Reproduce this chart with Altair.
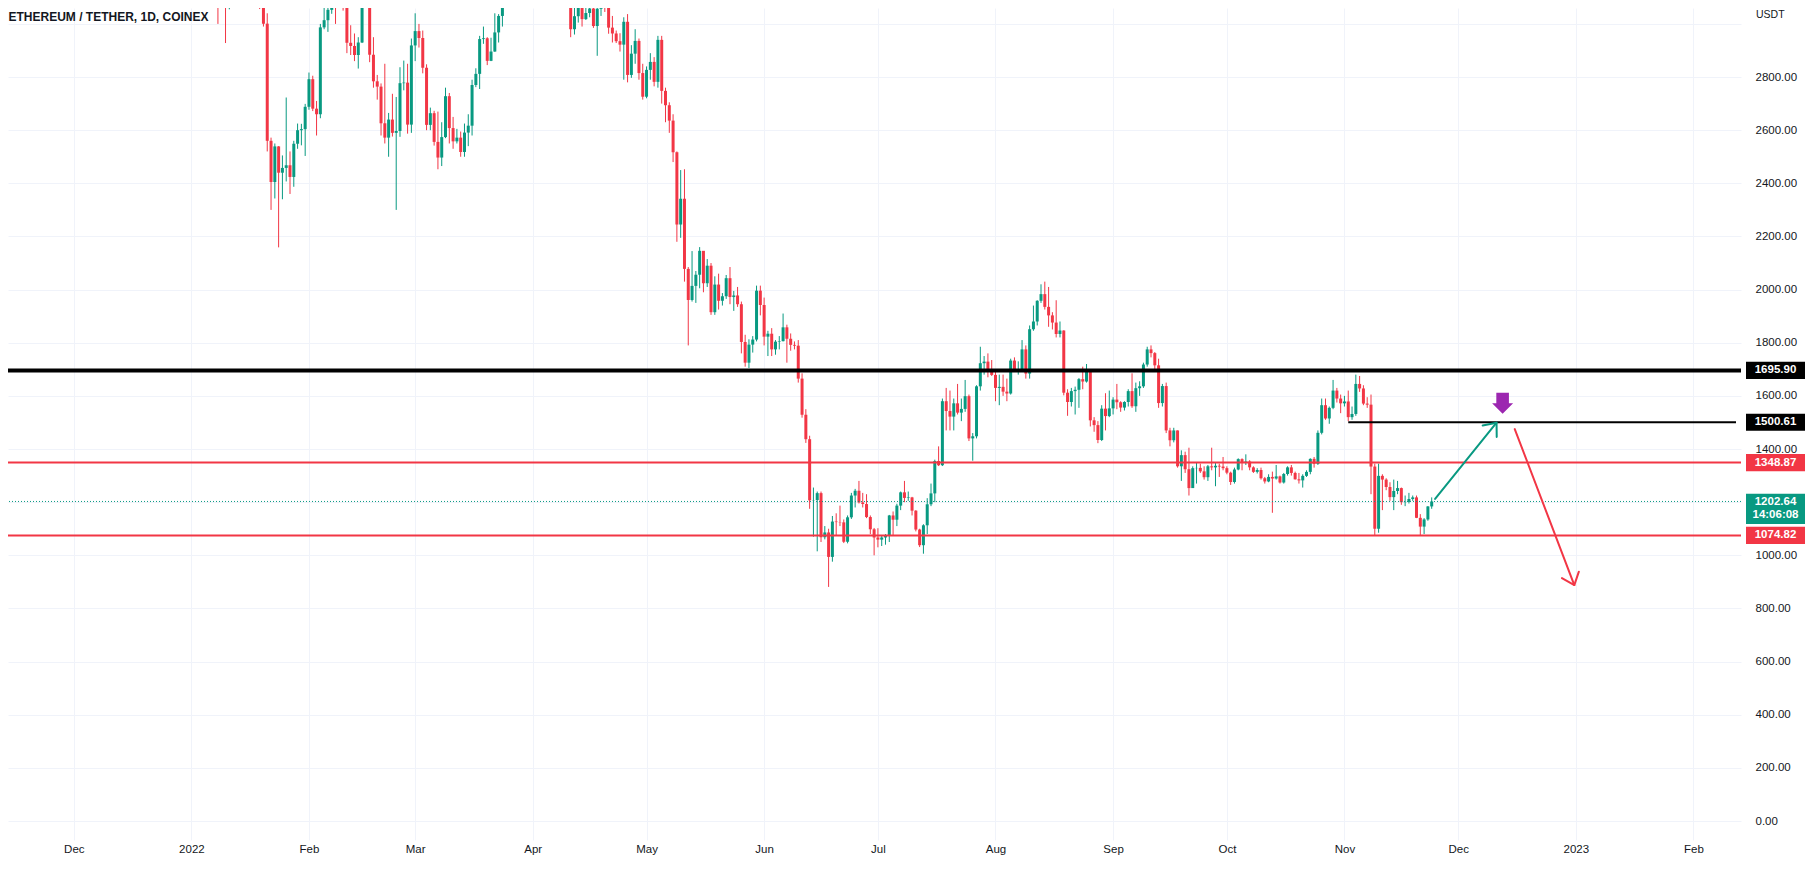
import altair as alt
import pandas as pd

# ------------------------------------------------------------------ data
first_open = 3676

c_jan = [3765, 3829, 3762, 3795, 3537, 3413, 3198, 3165, 3196, 3081,
         3239, 3371, 3245, 3309, 3331, 3349, 3211, 3165, 3096, 3001,
         2560, 2405, 2539, 2440, 2458, 2468, 2424, 2549, 2600, 2604,
         2688]
h_jan = [3776, 3855, 3855, 3878, 3845, 3555, 3421, 3240, 3240, 3211,
         3255, 3413, 3395, 3335, 3369, 3370, 3355, 3220, 3180, 3268,
         3040, 2572, 2550, 2540, 2505, 2723, 2520, 2560, 2625, 2624,
         2699]
l_jan = [3666, 3722, 3700, 3722, 3400, 3297, 3060, 3000, 3080, 2928,
         3055, 3208, 3237, 3180, 3300, 3280, 3160, 3085, 3056, 2990,
         2520, 2300, 2343, 2159, 2340, 2407, 2360, 2387, 2530, 2543,
         2503]

c_feb = [2792, 2681, 2660, 2987, 3014, 3053, 3147, 3115, 3242, 3076,
         2929, 2917, 2883, 2930, 3183, 3123, 2884, 2784, 2764, 2626,
         2572, 2640, 2590, 2597, 2777, 2779, 2621, 2919]
h_feb = [2817, 2805, 2710, 3000, 3065, 3075, 3190, 3180, 3270, 3280,
         3140, 2995, 2964, 2950, 3195, 3187, 3135, 2950, 2808, 2776,
         2850, 2665, 2737, 2725, 2837, 2862, 2850, 2945]
l_feb = [2677, 2672, 2580, 2645, 2980, 2970, 3038, 3000, 3088, 3050,
         2890, 2883, 2860, 2832, 2928, 3076, 2856, 2760, 2715, 2580,
         2550, 2500, 2576, 2300, 2575, 2750, 2587, 2590]

c_mar = [2973, 2947, 2835, 2620, 2664, 2556, 2497, 2574, 2728, 2608,
         2558, 2572, 2518, 2591, 2617, 2770, 2812, 2943, 2946, 2861,
         2896, 2968, 3030, 3105, 3109, 3145, 3300, 3329, 3397, 3385,
         3281]
h_mar = [3040, 3000, 2975, 2848, 2685, 2673, 2670, 2630, 2760, 2740,
         2650, 2605, 2595, 2625, 2660, 2790, 2833, 2955, 2990, 2950,
         2948, 3040, 3037, 3135, 3195, 3150, 3300, 3410, 3480, 3445,
         3440]
l_mar = [2860, 2911, 2814, 2600, 2600, 2542, 2453, 2465, 2570, 2550,
         2530, 2550, 2500, 2500, 2540, 2580, 2762, 2755, 2925, 2845,
         2860, 2895, 2930, 2990, 3078, 3100, 3130, 3300, 3330, 3340,
         3270]

c_apr = [3452, 3446, 3521, 3519, 3410, 3172, 3235, 3187, 3263, 3210,
         2980, 3029, 3117, 3018, 3041, 3058, 2992, 3057, 3103, 3077,
         2986, 2964, 2935, 2922, 3008, 2808, 2888, 2936, 2815, 2726]
h_apr = [3475, 3555, 3580, 3540, 3555, 3410, 3255, 3300, 3270, 3305,
         3210, 3065, 3138, 3130, 3072, 3080, 3080, 3066, 3125, 3170,
         3190, 3030, 2975, 2965, 3025, 3037, 2920, 2980, 2945, 2850]
l_apr = [3212, 3440, 3415, 3400, 3405, 3150, 3162, 3175, 3180, 3200,
         2950, 2960, 3005, 2990, 3015, 3025, 2985, 2880, 3030, 3045,
         2963, 2930, 2928, 2896, 2790, 2780, 2797, 2850, 2790, 2715]

c_may = [2827, 2857, 2782, 2940, 2748, 2694, 2636, 2517, 2245, 2342,
         2078, 1961, 2014, 2056, 2146, 2024, 2090, 1915, 2019, 1958,
         1975, 2043, 1972, 1978, 1945, 1803, 1725, 1793, 1812, 1996,
         1942]
h_may = [2840, 2890, 2875, 2955, 2955, 2760, 2705, 2660, 2520, 2450,
         2453, 2085, 2145, 2070, 2160, 2145, 2115, 2100, 2050, 2060,
         1987, 2055, 2085, 1995, 2010, 1955, 1830, 1813, 1825, 2015,
         2015]
l_may = [2720, 2790, 2765, 2760, 2700, 2630, 2590, 2480, 2180, 2195,
         2030, 1790, 1955, 1950, 2005, 1990, 2010, 1905, 1905, 1925,
         1940, 1965, 1945, 1920, 1935, 1760, 1710, 1705, 1763, 1805,
         1903]

c_jun = [1823, 1834, 1775, 1804, 1806, 1858, 1815, 1792, 1789, 1665,
         1529, 1437, 1207, 1208, 1234, 1068, 1086, 994, 1127, 1125,
         1124, 1051, 1143, 1225, 1243, 1199, 1193, 1144, 1098, 1067]
h_jun = [1970, 1845, 1855, 1810, 1825, 1910, 1868, 1835, 1805, 1810,
         1685, 1550, 1450, 1255, 1240, 1240, 1110, 1100, 1148, 1158,
         1187, 1135, 1150, 1235, 1250, 1280, 1235, 1230, 1150, 1103]
l_jun = [1790, 1750, 1750, 1755, 1775, 1805, 1725, 1770, 1775, 1650,
         1518, 1423, 1175, 1070, 1015, 1050, 1060, 881, 976, 1075,
         1110, 1046, 1045, 1137, 1180, 1195, 1180, 1140, 1080, 1000]

c_jul = [1059, 1067, 1075, 1150, 1134, 1187, 1237, 1216, 1218, 1168,
         1097, 1038, 1113, 1192, 1233, 1355, 1339, 1580, 1543, 1522,
         1572, 1537, 1551, 1599, 1440, 1448, 1636, 1723, 1729, 1695,
         1679]
h_jul = [1102, 1075, 1080, 1152, 1165, 1194, 1240, 1280, 1240, 1220,
         1170, 1100, 1117, 1215, 1270, 1360, 1410, 1590, 1630, 1620,
         1590, 1645, 1590, 1660, 1605, 1460, 1640, 1785, 1750, 1760,
         1735]
l_jul = [1030, 1035, 1040, 1050, 1075, 1110, 1170, 1200, 1205, 1150,
         1090, 1031, 1006, 1080, 1185, 1200, 1336, 1336, 1470, 1470,
         1470, 1530, 1505, 1540, 1430, 1356, 1440, 1620, 1680, 1670,
         1675]

c_aug = [1630, 1634, 1616, 1609, 1733, 1697, 1701, 1775, 1684, 1851,
         1880, 1958, 1983, 1935, 1903, 1876, 1833, 1846, 1612, 1577,
         1618, 1623, 1663, 1654, 1695, 1508, 1490, 1434, 1552, 1524,
         1553]
h_aug = [1695, 1680, 1680, 1665, 1740, 1745, 1730, 1810, 1790, 1865,
         1940, 1960, 2020, 2030, 2010, 1915, 1960, 1880, 1847, 1625,
         1630, 1635, 1667, 1710, 1720, 1700, 1520, 1505, 1565, 1610,
         1620]
l_aug = [1580, 1565, 1600, 1580, 1605, 1690, 1680, 1700, 1665, 1665,
         1845, 1865, 1950, 1925, 1860, 1850, 1820, 1820, 1602, 1525,
         1560, 1530, 1555, 1625, 1650, 1485, 1465, 1422, 1430, 1470,
         1520]

c_sep = [1586, 1576, 1556, 1577, 1618, 1561, 1629, 1636, 1718, 1775,
         1761, 1715, 1573, 1637, 1470, 1433, 1470, 1335, 1377, 1324,
         1253, 1328, 1329, 1316, 1294, 1335, 1331, 1337, 1334, 1328]
h_sep = [1595, 1645, 1580, 1580, 1625, 1685, 1650, 1655, 1725, 1785,
         1790, 1765, 1740, 1645, 1650, 1480, 1480, 1470, 1395, 1390,
         1405, 1335, 1350, 1345, 1335, 1340, 1405, 1350, 1345, 1370]
l_sep = [1530, 1550, 1540, 1545, 1560, 1555, 1540, 1600, 1630, 1710,
         1745, 1690, 1555, 1560, 1460, 1410, 1425, 1330, 1280, 1310,
         1225, 1255, 1270, 1310, 1285, 1280, 1320, 1260, 1295, 1320]

c_oct = [1311, 1276, 1323, 1362, 1351, 1353, 1331, 1314, 1321, 1290,
         1278, 1295, 1289, 1297, 1274, 1306, 1331, 1310, 1286, 1282,
         1299, 1314, 1363, 1344, 1461, 1565, 1515, 1555, 1620, 1590,
         1572]
h_oct = [1335, 1315, 1330, 1365, 1365, 1380, 1358, 1335, 1328, 1330,
         1295, 1305, 1315, 1340, 1300, 1310, 1335, 1340, 1315, 1310,
         1305, 1320, 1365, 1370, 1470, 1590, 1590, 1560, 1660, 1630,
         1605]
l_oct = [1305, 1265, 1270, 1320, 1320, 1340, 1320, 1310, 1308, 1285,
         1270, 1275, 1160, 1285, 1270, 1270, 1300, 1300, 1285, 1270,
         1255, 1295, 1305, 1330, 1340, 1455, 1510, 1495, 1550, 1575,
         1535]

c_nov = [1579, 1520, 1532, 1645, 1628, 1571, 1567, 1334, 1100, 1299,
         1285, 1257, 1219, 1242, 1253, 1200, 1201, 1212, 1218, 1141,
         1108, 1135, 1184, 1202.64]
h_nov = [1600, 1620, 1560, 1680, 1675, 1640, 1595, 1605, 1345, 1345,
         1305, 1290, 1275, 1285, 1280, 1255, 1225, 1235, 1225, 1225,
         1155, 1140, 1185, 1218]
l_nov = [1560, 1505, 1510, 1525, 1615, 1565, 1555, 1230, 1073, 1085,
         1170, 1245, 1205, 1170, 1230, 1190, 1185, 1195, 1205, 1140,
         1075, 1080, 1130, 1175]

# time axis: day index counted from 1 Jan 2022
month_days = [-31, 0, 31, 59, 90, 120, 151, 181, 212, 243, 273, 304, 334, 365, 396]
month_labels = ["Dec", "2022", "Feb", "Mar", "Apr", "May", "Jun", "Jul",
                "Aug", "Sep", "Oct", "Nov", "Dec", "2023", "Feb"]
price_ticks = [0, 200, 400, 600, 800, 1000, 1200, 1400, 1600, 1800,
               2000, 2200, 2400, 2600, 2800, 3000]

level_major = 1695.90
level_target = 1500.61
level_target_start = 305
level_upper = 1348.87
level_lower = 1074.82
last_price = 1202.64
countdown = "14:06:08"

arrow_kind = ["up", "down"]
arrow_x0 = [327.9, 348.9]
arrow_y0 = [1212, 1475]
arrow_x1 = [344.1, 364.6]
arrow_y1 = [1499, 888]
arrow_angle = [39, 159]

marker_day = [345.7]
marker_price = [1572]

title_text = "ETHEREUM / TETHER, 1D, COINEX"

# ------------------------------------------------------------------ tables
closes = c_jan + c_feb + c_mar + c_apr + c_may + c_jun + c_jul + c_aug + c_sep + c_oct + c_nov
highs = h_jan + h_feb + h_mar + h_apr + h_may + h_jun + h_jul + h_aug + h_sep + h_oct + h_nov
lows = l_jan + l_feb + l_mar + l_apr + l_may + l_jun + l_jul + l_aug + l_sep + l_oct + l_nov
opens = [first_open] + closes[:-1]

candles = pd.DataFrame({
    "day": list(range(len(closes))),
    "open": opens, "high": highs, "low": lows, "close": closes,
})
candles["dir"] = ["up" if c >= o else "down" for o, c in zip(opens, closes)]

# ------------------------------------------------------------------ style
W, H = 1733, 832
GREEN = "#089981"
RED = "#f23645"
BLACK = "#000000"
PURPLE = "#9c27b0"
TEXT = "#131722"
GRID = "#f0f3fa"
FONT = "Liberation Sans"

X_DOMAIN = [-47.03, 407.23]
Y_DOMAIN = [-71.5, 3059.9]
xs = alt.Scale(domain=X_DOMAIN, nice=False, zero=False)
ys = alt.Scale(domain=Y_DOMAIN, nice=False, zero=False)
dir_scale = alt.Scale(domain=["up", "down"], range=[GREEN, RED])

x_label_expr = ("[" + ",".join("'%s'" % s for s in month_labels) + "][indexof(["
                + ",".join(str(d) for d in month_days) + "], datum.value)]")

x_axis = alt.Axis(values=month_days, labelExpr=x_label_expr, grid=True, gridColor=GRID,
                  gridWidth=1, domain=False, ticks=False, labelPadding=9,
                  labelBaseline="middle", labelFont=FONT, labelFontSize=11.5,
                  labelColor=TEXT, title=None, labelFlush=False, labelOverlap=False,
                  zindex=0)
y_axis = alt.Axis(orient="right", values=price_ticks,
                  labelExpr="datum.value >= 3000 ? '' : format(datum.value, '.2f')",
                  grid=True, gridColor=GRID, gridWidth=1, domain=False, ticks=False,
                  labelPadding=14, labelAlign="left", labelBaseline="middle",
                  labelFont=FONT, labelFontSize=11.5, labelColor=TEXT, title=None,
                  labelFlush=False, labelOverlap=False, zindex=0)


def X(field):
    return alt.X(field, scale=xs, axis=x_axis)


def Y(field):
    return alt.Y(field, scale=ys, axis=y_axis)


# ------------------------------------------------------------------ layers
wicks = alt.Chart(candles).mark_rule(strokeWidth=1, clip=True).encode(
    x=X("day:Q"), y=Y("low:Q"), y2="high:Q",
    color=alt.Color("dir:N", scale=dir_scale, legend=None),
)
bodies = alt.Chart(candles).mark_bar(size=3, clip=True, opacity=1).encode(
    x=X("day:Q"), y=Y("open:Q"), y2="close:Q",
    color=alt.Color("dir:N", scale=dir_scale, legend=None),
)


def hline(value, color, width, dash=None):
    kw = dict(color=color, strokeWidth=width)
    if dash is not None:
        kw["strokeDash"] = dash
    return alt.Chart(pd.DataFrame({"price": [value]})).mark_rule(**kw).encode(
        y=Y("price:Q"))


major_line = hline(level_major, BLACK, 4)
upper_line = hline(level_upper, RED, 2)
lower_line = hline(level_lower, RED, 2)
last_line = hline(last_price, GREEN, 1, [1, 2])

target_line = alt.Chart(pd.DataFrame({
    "start": [level_target_start], "end": [X_DOMAIN[1]], "price": [level_target]
})).mark_rule(color=BLACK, strokeWidth=2).encode(
    x=X("start:Q"), x2="end:Q", y=Y("price:Q"))

arrows = pd.DataFrame({"kind": arrow_kind, "x0": arrow_x0, "y0": arrow_y0,
                       "x1": arrow_x1, "y1": arrow_y1, "angle": arrow_angle})
arrow_scale = alt.Scale(domain=["up", "down"], range=[GREEN, RED])
arrow_lines = alt.Chart(arrows).mark_rule(strokeWidth=2, strokeCap="round").encode(
    x=X("x0:Q"), y=Y("y0:Q"), x2="x1:Q", y2="y1:Q",
    color=alt.Color("kind:N", scale=arrow_scale, legend=None))
chevron = "M-0.64,0.77L0,0L0.64,0.77"
arrow_heads = alt.Chart(arrows).mark_point(
    shape=chevron, filled=False, strokeWidth=2, size=800, opacity=1,
    strokeCap="round", strokeJoin="round").encode(
    x=X("x1:Q"), y=Y("y1:Q"),
    angle=alt.Angle("angle:Q", scale=None),
    color=alt.Color("kind:N", scale=arrow_scale, legend=None))

block_arrow = "M-0.6,-1L0.6,-1L0.6,0L1,0L0,1L-1,0L-0.6,0Z"
marker = alt.Chart(pd.DataFrame({"day": marker_day, "price": marker_price})).mark_point(
    shape=block_arrow, filled=True, size=441, color=PURPLE, opacity=1, strokeWidth=0
).encode(x=X("day:Q"), y=Y("price:Q"))

# price tags on the scale
tags = pd.DataFrame({
    "price": [level_major, level_target, level_upper, level_lower],
    "kind": ["black", "black", "red", "red"],
    "label": ["%.2f" % level_major, "%.2f" % level_target,
              "%.2f" % level_upper, "%.2f" % level_lower],
})
tag_scale = alt.Scale(domain=["black", "red"], range=[BLACK, RED])
TAG_X = W + 34.5
tag_box = alt.Chart(tags).mark_point(
    shape="M-1,-0.29L1,-0.29L1,0.29L-1,0.29Z", filled=True, size=3481,
    opacity=1, strokeWidth=0).encode(
    x=alt.value(TAG_X), y=Y("price:Q"),
    color=alt.Color("kind:N", scale=tag_scale, legend=None))
tag_text = alt.Chart(tags).mark_text(
    color="white", font=FONT, fontSize=11.5, fontWeight="bold",
    align="center", baseline="middle").encode(
    x=alt.value(TAG_X), y=Y("price:Q"), text="label:N")

last_df = pd.DataFrame({"price": [last_price], "label": ["%.2f" % last_price],
                        "timer": [countdown]})
last_box = alt.Chart(last_df).mark_point(
    shape="M-1,-0.26L1,-0.26L1,0.76L-1,0.76Z", filled=True, size=3481,
    opacity=1, strokeWidth=0, color=GREEN).encode(
    x=alt.value(TAG_X), y=Y("price:Q"))
last_text = alt.Chart(last_df).mark_text(
    color="white", font=FONT, fontSize=11.5, fontWeight="bold",
    align="center", baseline="middle", dy=1).encode(
    x=alt.value(TAG_X), y=Y("price:Q"), text="label:N")
last_timer = alt.Chart(last_df).mark_text(
    color="white", font=FONT, fontSize=11.5, fontWeight="bold",
    align="center", baseline="middle", dy=14).encode(
    x=alt.value(TAG_X), y=Y("price:Q"), text="timer:N")

title = alt.Chart(pd.DataFrame({"t": [title_text]})).mark_text(
    font=FONT, fontSize=12, fontWeight="bold", color=TEXT, align="left",
    baseline="middle").encode(x=alt.value(0.5), y=alt.value(9), text="t:N")
unit = alt.Chart(pd.DataFrame({"t": ["USDT"]})).mark_text(
    font=FONT, fontSize=10.5, color=TEXT, align="left", baseline="middle").encode(
    x=alt.value(W + 15), y=alt.value(7), text="t:N")

chart = alt.layer(
    wicks, bodies,
    major_line, upper_line, lower_line, last_line, target_line,
    arrow_lines, arrow_heads, marker,
    tag_box, tag_text, last_box, last_text, last_timer,
    title, unit,
).resolve_scale(
    color="independent"
).properties(
    width=W, height=H,
    autosize=alt.AutoSizeParams(type="none"),
    padding={"left": 0, "top": 0, "right": 65, "bottom": 15},
    background="white",
).configure_view(stroke=None)

chart.save("out.html", embed_options={"renderer": "svg", "actions": False})
